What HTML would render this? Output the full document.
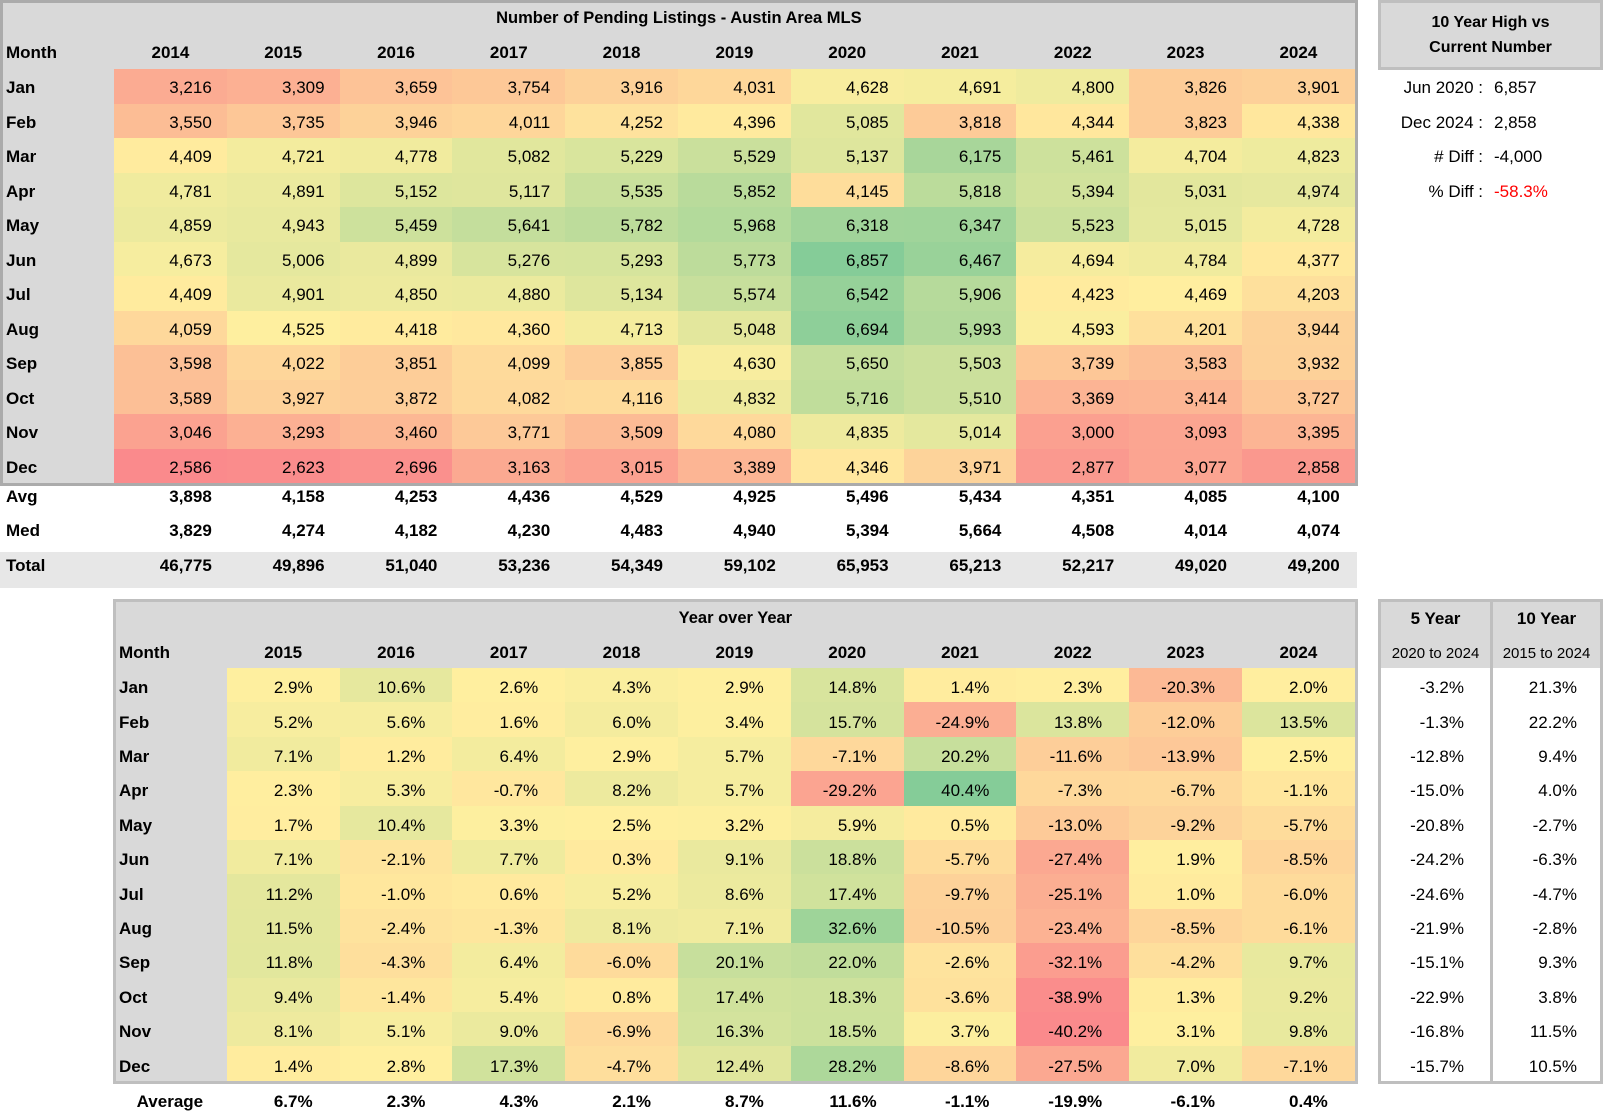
<!DOCTYPE html>
<html><head><meta charset="utf-8">
<style>
*{box-sizing:border-box}
body{margin:0;width:1605px;height:1110px;position:relative;background:#fff;font-family:"Liberation Sans",Arial,sans-serif;color:#000;overflow:hidden;font-size:17px}
.g{position:absolute;display:grid}
.g>div{display:flex;align-items:center;white-space:nowrap;padding-top:4px}
.g>div.tt{grid-column:1/-1;justify-content:center;font-weight:bold;font-size:16.5px;padding-top:0}
.t2>div,.rb>div{padding-top:6px}
.t2>div.tt{padding-top:3px}
.m{font-weight:bold;padding-left:3px}
.y{font-weight:bold;justify-content:center}
.v{justify-content:flex-end;padding-right:15px;background:#fbe9a0}
.p .v{padding-right:27px}
.w{justify-content:flex-end;padding-right:15px;font-weight:bold}
.p .w{padding-right:27px}
.rb .c{justify-content:flex-end;padding-right:26px}
.rb .r{border-left:3px solid #bfbfbf;padding-right:23px}
.rb .h{background:#d9d9d9;justify-content:center}
.st{position:absolute;height:34px;line-height:34px;white-space:nowrap}
</style></head><body>

<!-- Top table -->
<div class="g t1" style="left:0;top:0;width:1358px;height:486px;border:3px solid #ababab;background:#d9d9d9;grid-template-columns:111px repeat(11,112.8px);grid-template-rows:30px 36px repeat(12,34.5px)">
<div class="tt">Number of Pending Listings - Austin Area MLS</div>
<div class="m">Month</div><div class="y">2014</div><div class="y">2015</div><div class="y">2016</div><div class="y">2017</div><div class="y">2018</div><div class="y">2019</div><div class="y">2020</div><div class="y">2021</div><div class="y">2022</div><div class="y">2023</div><div class="y">2024</div>
<div class="m">Jan</div><div class="v">3,216</div><div class="v">3,309</div><div class="v">3,659</div><div class="v">3,754</div><div class="v">3,916</div><div class="v">4,031</div><div class="v">4,628</div><div class="v">4,691</div><div class="v">4,800</div><div class="v">3,826</div><div class="v">3,901</div>
<div class="m">Feb</div><div class="v">3,550</div><div class="v">3,735</div><div class="v">3,946</div><div class="v">4,011</div><div class="v">4,252</div><div class="v">4,396</div><div class="v">5,085</div><div class="v">3,818</div><div class="v">4,344</div><div class="v">3,823</div><div class="v">4,338</div>
<div class="m">Mar</div><div class="v">4,409</div><div class="v">4,721</div><div class="v">4,778</div><div class="v">5,082</div><div class="v">5,229</div><div class="v">5,529</div><div class="v">5,137</div><div class="v">6,175</div><div class="v">5,461</div><div class="v">4,704</div><div class="v">4,823</div>
<div class="m">Apr</div><div class="v">4,781</div><div class="v">4,891</div><div class="v">5,152</div><div class="v">5,117</div><div class="v">5,535</div><div class="v">5,852</div><div class="v">4,145</div><div class="v">5,818</div><div class="v">5,394</div><div class="v">5,031</div><div class="v">4,974</div>
<div class="m">May</div><div class="v">4,859</div><div class="v">4,943</div><div class="v">5,459</div><div class="v">5,641</div><div class="v">5,782</div><div class="v">5,968</div><div class="v">6,318</div><div class="v">6,347</div><div class="v">5,523</div><div class="v">5,015</div><div class="v">4,728</div>
<div class="m">Jun</div><div class="v">4,673</div><div class="v">5,006</div><div class="v">4,899</div><div class="v">5,276</div><div class="v">5,293</div><div class="v">5,773</div><div class="v">6,857</div><div class="v">6,467</div><div class="v">4,694</div><div class="v">4,784</div><div class="v">4,377</div>
<div class="m">Jul</div><div class="v">4,409</div><div class="v">4,901</div><div class="v">4,850</div><div class="v">4,880</div><div class="v">5,134</div><div class="v">5,574</div><div class="v">6,542</div><div class="v">5,906</div><div class="v">4,423</div><div class="v">4,469</div><div class="v">4,203</div>
<div class="m">Aug</div><div class="v">4,059</div><div class="v">4,525</div><div class="v">4,418</div><div class="v">4,360</div><div class="v">4,713</div><div class="v">5,048</div><div class="v">6,694</div><div class="v">5,993</div><div class="v">4,593</div><div class="v">4,201</div><div class="v">3,944</div>
<div class="m">Sep</div><div class="v">3,598</div><div class="v">4,022</div><div class="v">3,851</div><div class="v">4,099</div><div class="v">3,855</div><div class="v">4,630</div><div class="v">5,650</div><div class="v">5,503</div><div class="v">3,739</div><div class="v">3,583</div><div class="v">3,932</div>
<div class="m">Oct</div><div class="v">3,589</div><div class="v">3,927</div><div class="v">3,872</div><div class="v">4,082</div><div class="v">4,116</div><div class="v">4,832</div><div class="v">5,716</div><div class="v">5,510</div><div class="v">3,369</div><div class="v">3,414</div><div class="v">3,727</div>
<div class="m">Nov</div><div class="v">3,046</div><div class="v">3,293</div><div class="v">3,460</div><div class="v">3,771</div><div class="v">3,509</div><div class="v">4,080</div><div class="v">4,835</div><div class="v">5,014</div><div class="v">3,000</div><div class="v">3,093</div><div class="v">3,395</div>
<div class="m">Dec</div><div class="v">2,586</div><div class="v">2,623</div><div class="v">2,696</div><div class="v">3,163</div><div class="v">3,015</div><div class="v">3,389</div><div class="v">4,346</div><div class="v">3,971</div><div class="v">2,877</div><div class="v">3,077</div><div class="v">2,858</div>
</div>

<!-- Avg / Med -->
<div class="g" style="left:0;top:478px;width:1358px;height:68px;grid-template-columns:114px repeat(11,112.8px);grid-template-rows:34px 34px">
<div class="m" style="padding-left:6px">Avg</div><div class="w">3,898</div><div class="w">4,158</div><div class="w">4,253</div><div class="w">4,436</div><div class="w">4,529</div><div class="w">4,925</div><div class="w">5,496</div><div class="w">5,434</div><div class="w">4,351</div><div class="w">4,085</div><div class="w">4,100</div>
<div class="m" style="padding-left:6px">Med</div><div class="w">3,829</div><div class="w">4,274</div><div class="w">4,182</div><div class="w">4,230</div><div class="w">4,483</div><div class="w">4,940</div><div class="w">5,394</div><div class="w">5,664</div><div class="w">4,508</div><div class="w">4,014</div><div class="w">4,074</div>
</div>

<!-- Total -->
<div style="position:absolute;left:0;top:552px;width:1357px;height:36px;background:#e7e7e7"></div>
<div class="g" style="left:0;top:547px;width:1358px;height:34px;grid-template-columns:114px repeat(11,112.8px);grid-template-rows:34px">
<div class="m" style="padding-left:6px">Total</div><div class="w">46,775</div><div class="w">49,896</div><div class="w">51,040</div><div class="w">53,236</div><div class="w">54,349</div><div class="w">59,102</div><div class="w">65,953</div><div class="w">65,213</div><div class="w">52,217</div><div class="w">49,020</div><div class="w">49,200</div>
</div>

<!-- Right top box -->
<div style="position:absolute;left:1378px;top:0;width:225px;height:70px;border:3px solid #bfbfbf;background:#d9d9d9;text-align:center;font-weight:bold;font-size:16px;line-height:25px;padding-top:7px">10 Year High vs<br>Current Number</div>
<div class="st" style="right:122px;top:71px">Jun 2020 :</div><div class="st" style="left:1494px;top:71px">6,857</div>
<div class="st" style="right:122px;top:106px">Dec 2024 :</div><div class="st" style="left:1494px;top:106px">2,858</div>
<div class="st" style="right:122px;top:140px"># Diff :</div><div class="st" style="left:1494px;top:140px">-4,000</div>
<div class="st" style="right:122px;top:175px">% Diff :</div><div class="st" style="left:1494px;top:175px;color:#ff0000">-58.3%</div>

<!-- Bottom table -->
<div class="g t2 p" style="left:113px;top:599px;width:1245px;height:485px;border:3px solid #bfbfbf;background:#d9d9d9;grid-template-columns:110.8px repeat(10,112.8px);grid-template-rows:30px 36px repeat(12,34.42px)">
<div class="tt">Year over Year</div>
<div class="m">Month</div><div class="y">2015</div><div class="y">2016</div><div class="y">2017</div><div class="y">2018</div><div class="y">2019</div><div class="y">2020</div><div class="y">2021</div><div class="y">2022</div><div class="y">2023</div><div class="y">2024</div>
<div class="m">Jan</div><div class="v">2.9%</div><div class="v">10.6%</div><div class="v">2.6%</div><div class="v">4.3%</div><div class="v">2.9%</div><div class="v">14.8%</div><div class="v">1.4%</div><div class="v">2.3%</div><div class="v">-20.3%</div><div class="v">2.0%</div>
<div class="m">Feb</div><div class="v">5.2%</div><div class="v">5.6%</div><div class="v">1.6%</div><div class="v">6.0%</div><div class="v">3.4%</div><div class="v">15.7%</div><div class="v">-24.9%</div><div class="v">13.8%</div><div class="v">-12.0%</div><div class="v">13.5%</div>
<div class="m">Mar</div><div class="v">7.1%</div><div class="v">1.2%</div><div class="v">6.4%</div><div class="v">2.9%</div><div class="v">5.7%</div><div class="v">-7.1%</div><div class="v">20.2%</div><div class="v">-11.6%</div><div class="v">-13.9%</div><div class="v">2.5%</div>
<div class="m">Apr</div><div class="v">2.3%</div><div class="v">5.3%</div><div class="v">-0.7%</div><div class="v">8.2%</div><div class="v">5.7%</div><div class="v">-29.2%</div><div class="v">40.4%</div><div class="v">-7.3%</div><div class="v">-6.7%</div><div class="v">-1.1%</div>
<div class="m">May</div><div class="v">1.7%</div><div class="v">10.4%</div><div class="v">3.3%</div><div class="v">2.5%</div><div class="v">3.2%</div><div class="v">5.9%</div><div class="v">0.5%</div><div class="v">-13.0%</div><div class="v">-9.2%</div><div class="v">-5.7%</div>
<div class="m">Jun</div><div class="v">7.1%</div><div class="v">-2.1%</div><div class="v">7.7%</div><div class="v">0.3%</div><div class="v">9.1%</div><div class="v">18.8%</div><div class="v">-5.7%</div><div class="v">-27.4%</div><div class="v">1.9%</div><div class="v">-8.5%</div>
<div class="m">Jul</div><div class="v">11.2%</div><div class="v">-1.0%</div><div class="v">0.6%</div><div class="v">5.2%</div><div class="v">8.6%</div><div class="v">17.4%</div><div class="v">-9.7%</div><div class="v">-25.1%</div><div class="v">1.0%</div><div class="v">-6.0%</div>
<div class="m">Aug</div><div class="v">11.5%</div><div class="v">-2.4%</div><div class="v">-1.3%</div><div class="v">8.1%</div><div class="v">7.1%</div><div class="v">32.6%</div><div class="v">-10.5%</div><div class="v">-23.4%</div><div class="v">-8.5%</div><div class="v">-6.1%</div>
<div class="m">Sep</div><div class="v">11.8%</div><div class="v">-4.3%</div><div class="v">6.4%</div><div class="v">-6.0%</div><div class="v">20.1%</div><div class="v">22.0%</div><div class="v">-2.6%</div><div class="v">-32.1%</div><div class="v">-4.2%</div><div class="v">9.7%</div>
<div class="m">Oct</div><div class="v">9.4%</div><div class="v">-1.4%</div><div class="v">5.4%</div><div class="v">0.8%</div><div class="v">17.4%</div><div class="v">18.3%</div><div class="v">-3.6%</div><div class="v">-38.9%</div><div class="v">1.3%</div><div class="v">9.2%</div>
<div class="m">Nov</div><div class="v">8.1%</div><div class="v">5.1%</div><div class="v">9.0%</div><div class="v">-6.9%</div><div class="v">16.3%</div><div class="v">18.5%</div><div class="v">3.7%</div><div class="v">-40.2%</div><div class="v">3.1%</div><div class="v">9.8%</div>
<div class="m">Dec</div><div class="v">1.4%</div><div class="v">2.8%</div><div class="v">17.3%</div><div class="v">-4.7%</div><div class="v">12.4%</div><div class="v">28.2%</div><div class="v">-8.6%</div><div class="v">-27.5%</div><div class="v">7.0%</div><div class="v">-7.1%</div>
</div>

<!-- Average row -->
<div class="g p" style="left:113px;top:1085px;width:1245px;height:30px;grid-template-columns:113.8px repeat(10,112.8px);grid-template-rows:30px">
<div class="y">Average</div><div class="w">6.7%</div><div class="w">2.3%</div><div class="w">4.3%</div><div class="w">2.1%</div><div class="w">8.7%</div><div class="w">11.6%</div><div class="w">-1.1%</div><div class="w">-19.9%</div><div class="w">-6.1%</div><div class="w">0.4%</div>
</div>

<!-- Right bottom table -->
<div class="g rb" style="left:1378px;top:599px;width:225px;height:485px;border:3px solid #bfbfbf;background:#fff;grid-template-columns:109px 110px;grid-template-rows:30px 36px repeat(12,34.42px)">
<div class="h" style="font-weight:bold;padding-top:3px">5 Year</div><div class="h r" style="font-weight:bold;padding-top:3px;padding-right:0">10 Year</div>
<div class="h" style="font-size:15px">2020 to 2024</div><div class="h r" style="font-size:15px;padding-right:0">2015 to 2024</div>
<div class="c">-3.2%</div><div class="c r">21.3%</div>
<div class="c">-1.3%</div><div class="c r">22.2%</div>
<div class="c">-12.8%</div><div class="c r">9.4%</div>
<div class="c">-15.0%</div><div class="c r">4.0%</div>
<div class="c">-20.8%</div><div class="c r">-2.7%</div>
<div class="c">-24.2%</div><div class="c r">-6.3%</div>
<div class="c">-24.6%</div><div class="c r">-4.7%</div>
<div class="c">-21.9%</div><div class="c r">-2.8%</div>
<div class="c">-15.1%</div><div class="c r">9.3%</div>
<div class="c">-22.9%</div><div class="c r">3.8%</div>
<div class="c">-16.8%</div><div class="c r">11.5%</div>
<div class="c">-15.7%</div><div class="c r">10.5%</div>
</div>

<script>
function paint(sel){
 var els=[].slice.call(document.querySelectorAll(sel));
 var vals=els.map(function(e){return parseFloat(e.textContent.replace(/[,%]/g,''))});
 var s=vals.slice().sort(function(a,b){return a-b});
 var n=s.length,min=s[0],max=s[n-1],k=(n-1)*0.5,f=Math.floor(k);
 var mid=s[f]+(s[Math.min(f+1,n-1)]-s[f])*(k-f);
 var R=[248,105,107],Y=[255,235,132],G=[99,190,123],a=0.78;
 els.forEach(function(e,i){
  var v=vals[i],c1,c2,t;
  if(v<=mid){c1=R;c2=Y;t=(mid-min)?(v-min)/(mid-min):1}else{c1=Y;c2=G;t=(max-mid)?(v-mid)/(max-mid):1}
  var c=[0,1,2].map(function(j){return Math.round(255-(255-(c1[j]+(c2[j]-c1[j])*t))*a)});
  e.style.background='rgb('+c.join(',')+')';
 });
}
paint('.t1 .v');paint('.t2 .v');
</script>
</body></html>
